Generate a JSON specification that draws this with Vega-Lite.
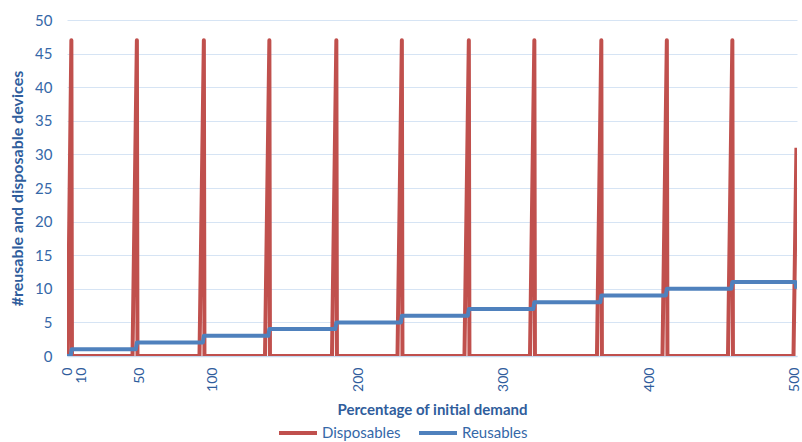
{
  "$schema": "https://vega.github.io/schema/vega-lite/v6.json",
  "width": 730,
  "height": 336,
  "autosize": {"type": "none"},
  "padding": {"left": 67, "top": 20, "right": 5, "bottom": 86},
  "background": "white",
  "config": {
    "font": "Lato",
    "view": {"stroke": null}
  },
  "data": {
    "values": [
      {"x": 0, "y": 0, "series": "Disposables"},
      {"x": 0.5, "y": 0, "series": "Disposables"},
      {"x": 3, "y": 47, "series": "Disposables"},
      {"x": 3.4, "y": 0, "series": "Disposables"},
      {"x": 45, "y": 0, "series": "Disposables"},
      {"x": 48, "y": 47, "series": "Disposables"},
      {"x": 48.4, "y": 0, "series": "Disposables"},
      {"x": 91, "y": 0, "series": "Disposables"},
      {"x": 94, "y": 47, "series": "Disposables"},
      {"x": 94.4, "y": 0, "series": "Disposables"},
      {"x": 136, "y": 0, "series": "Disposables"},
      {"x": 139, "y": 47, "series": "Disposables"},
      {"x": 139.4, "y": 0, "series": "Disposables"},
      {"x": 182, "y": 0, "series": "Disposables"},
      {"x": 185, "y": 47, "series": "Disposables"},
      {"x": 185.4, "y": 0, "series": "Disposables"},
      {"x": 227, "y": 0, "series": "Disposables"},
      {"x": 230, "y": 47, "series": "Disposables"},
      {"x": 230.4, "y": 0, "series": "Disposables"},
      {"x": 273, "y": 0, "series": "Disposables"},
      {"x": 276, "y": 47, "series": "Disposables"},
      {"x": 276.4, "y": 0, "series": "Disposables"},
      {"x": 318, "y": 0, "series": "Disposables"},
      {"x": 321, "y": 47, "series": "Disposables"},
      {"x": 321.4, "y": 0, "series": "Disposables"},
      {"x": 364, "y": 0, "series": "Disposables"},
      {"x": 367, "y": 47, "series": "Disposables"},
      {"x": 367.4, "y": 0, "series": "Disposables"},
      {"x": 409, "y": 0, "series": "Disposables"},
      {"x": 412, "y": 47, "series": "Disposables"},
      {"x": 412.4, "y": 0, "series": "Disposables"},
      {"x": 454, "y": 0, "series": "Disposables"},
      {"x": 457, "y": 47, "series": "Disposables"},
      {"x": 457.4, "y": 0, "series": "Disposables"},
      {"x": 499, "y": 0, "series": "Disposables"},
      {"x": 501, "y": 31, "series": "Disposables"},
      {"x": 0, "y": 0, "series": "Reusables"},
      {"x": 2.5, "y": 0, "series": "Reusables"},
      {"x": 3.2, "y": 1, "series": "Reusables"},
      {"x": 47.3, "y": 1, "series": "Reusables"},
      {"x": 48, "y": 2, "series": "Reusables"},
      {"x": 93.3, "y": 2, "series": "Reusables"},
      {"x": 94, "y": 3, "series": "Reusables"},
      {"x": 138.3, "y": 3, "series": "Reusables"},
      {"x": 139, "y": 4, "series": "Reusables"},
      {"x": 184.3, "y": 4, "series": "Reusables"},
      {"x": 185, "y": 5, "series": "Reusables"},
      {"x": 229.3, "y": 5, "series": "Reusables"},
      {"x": 230, "y": 6, "series": "Reusables"},
      {"x": 275.3, "y": 6, "series": "Reusables"},
      {"x": 276, "y": 7, "series": "Reusables"},
      {"x": 320.3, "y": 7, "series": "Reusables"},
      {"x": 321, "y": 8, "series": "Reusables"},
      {"x": 366.3, "y": 8, "series": "Reusables"},
      {"x": 367, "y": 9, "series": "Reusables"},
      {"x": 411.3, "y": 9, "series": "Reusables"},
      {"x": 412, "y": 10, "series": "Reusables"},
      {"x": 456.3, "y": 10, "series": "Reusables"},
      {"x": 457, "y": 11, "series": "Reusables"},
      {"x": 500.3, "y": 11, "series": "Reusables"},
      {"x": 501, "y": 10, "series": "Reusables"}
    ]
  },
  "mark": {"type": "line", "strokeWidth": 4, "strokeJoin": "round", "clip": true},
  "encoding": {
    "x": {
      "field": "x",
      "type": "quantitative",
      "scale": {"domain": [0, 501.4], "nice": false, "zero": false},
      "axis": {
        "values": [0, 10, 50, 100, 200, 300, 400, 500],
        "labelAngle": 270,
        "labelAlign": "right",
        "labelBaseline": "middle",
        "labelFontSize": 14,
        "labelColor": "#2f5d9c",
        "labelPadding": 11,
        "labelOverlap": false,
        "ticks": false,
        "grid": false,
        "domainColor": "#c5d9f0",
        "domainWidth": 1.5,
        "title": "Percentage of initial demand",
        "titleFontSize": 15,
        "titleFontWeight": "bold",
        "titleColor": "#2f5d9c",
        "titleY": 53,
        "titleBaseline": "middle"
      }
    },
    "y": {
      "field": "y",
      "type": "quantitative",
      "scale": {"domain": [0, 50], "nice": false},
      "axis": {
        "values": [0, 5, 10, 15, 20, 25, 30, 35, 40, 45, 50],
        "labelFontSize": 15,
        "labelColor": "#3568a8",
        "labelPadding": 15,
        "ticks": false,
        "domain": false,
        "gridColor": "#d6e4f4",
        "gridWidth": 1,
        "title": "#reusable and disposable devices",
        "titleFontSize": 16,
        "titleFontWeight": "bold",
        "titleColor": "#2f5d9c",
        "titleX": -50,
        "titleY": 168,
        "titleAngle": 270,
        "titleAlign": "center",
        "titleBaseline": "middle"
      }
    },
    "color": {
      "field": "series",
      "type": "nominal",
      "scale": {"domain": ["Disposables", "Reusables"], "range": ["#c0504d", "#4f81bd"]},
      "legend": {
        "title": null,
        "orient": "none",
        "direction": "horizontal",
        "legendX": 210,
        "legendY": 392,
        "padding": 0,
        "symbolType": "stroke",
        "symbolSize": 1444,
        "symbolStrokeWidth": 4,
        "labelFontSize": 15,
        "labelColor": "#3568a8",
        "labelOffset": 3,
        "columnPadding": 10
      }
    }
  }
}
